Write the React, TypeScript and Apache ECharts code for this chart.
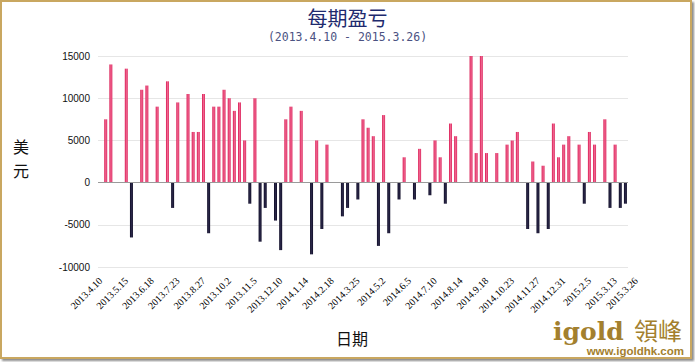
import React, { useEffect, useRef } from "react";
import * as echarts from "echarts";

const titleText = "每期盈亏";
const subtitleText = "(2013.4.10 - 2015.3.26)";
const yAxisName = "美元";
const xAxisName = "日期";

const tickLabels = [
  "2013.4.10", "2013.5.15", "2013.6.18", "2013.7.23", "2013.8.27", "2013.10.2",
  "2013.11.5", "2013.12.10", "2014.1.14", "2014.2.18", "2014.3.25", "2014.5.2",
  "2014.6.5", "2014.7.10", "2014.8.14", "2014.9.18", "2014.10.23", "2014.11.27",
  "2014.12.31", "2015.2.5", "2015.3.13",
];
const tickIndex = [0, 5, 10, 15, 20, 25, 30, 35, 40, 45, 50, 55, 60, 65, 70, 75, 80, 85, 90, 95, 100];
const endLabel = "2015.3.26";

const profit: (number | null)[] = [
  null, 7500, 14000, null, null, 13500, -6500, null, 11000, 11500,
  null, 9000, null, 12000, -3000, 9500, null, 10500, 6000, 6000,
  10500, -6000, 9000, 9000, 11000, 10000, 8500, 9500, 5000, -2500,
  10000, -7000, -3000, null, -4500, -8000, 7500, 9000, null, 8500,
  null, -8500, 5000, -5500, 4500, null, null, -4000, -3000, null,
  -2000, 7500, 6500, 5500, -7500, 8000, -6000, null, -2000, 3000,
  null, -2000, 4000, null, -1500, 5000, 3000, -2500, 7000, 5500,
  null, null, 15000, 3500, 15000, 3500, null, 3500, null, 4500,
  5000, 6000, null, -5500, 2500, -6000, 2000, -5500, 7000, 3000,
  4500, 5500, null, 4500, -2500, 6000, 4500, null, 7500, -3000,
  4500, -3000, -2500,
];

const yTicks = { min: -10000, max: 15000, interval: 5000 };

const categories = profit.map((_, i) => {
  const k = tickIndex.indexOf(i);
  return k >= 0 ? tickLabels[k] : "";
});

const GOLD = "#a3802e";

export default function App() {
  const ref = useRef<HTMLDivElement>(null);
  useEffect(() => {
    if (!ref.current) return;
    const chart = echarts.init(ref.current, undefined, { renderer: "svg" });
    const pos = new echarts.graphic.LinearGradient(0, 0, 1, 0, [
      { offset: 0, color: "#d8164f" },
      { offset: 0.5, color: "#f06590" },
      { offset: 1, color: "#dc2a60" },
    ]);
    const neg = new echarts.graphic.LinearGradient(0, 0, 1, 0, [
      { offset: 0, color: "#0f0c26" },
      { offset: 0.5, color: "#2a2748" },
      { offset: 1, color: "#0f0c26" },
    ]);
    chart.setOption({
      animation: false,
      backgroundColor: "transparent",
      grid: { left: 98, right: 67, top: 56, bottom: 95 },
      xAxis: {
        type: "category",
        data: categories,
        boundaryGap: true,
        axisLine: { show: false, onZero: false },
        axisTick: { show: false },
        splitLine: { show: false },
        axisLabel: {
          interval: 0,
          rotate: 45,
          margin: 12,
          fontSize: 10,
          fontFamily: "Liberation Serif",
          color: "#000",
        },
      },
      yAxis: {
        type: "value",
        min: yTicks.min,
        max: yTicks.max,
        interval: yTicks.interval,
        axisLine: { show: false },
        axisTick: { show: false },
        splitLine: { lineStyle: { color: "#e6e6e6", width: 1 } },
        axisLabel: {
          margin: 8,
          fontSize: 10,
          fontFamily: "Liberation Sans",
          color: "#111",
          formatter: (v: number) => String(v),
        },
      },
      series: [
        {
          type: "bar",
          data: profit,
          barWidth: 3,
          itemStyle: {
            color: (p: any) => (p.value >= 0 ? pos : neg),
          },
          markLine: {
            silent: true,
            symbol: "none",
            label: { show: false },
            lineStyle: { color: "#9a9a9a", type: "solid", width: 1 },
            data: [{ yAxis: 0 }],
          },
        },
      ],
      graphic: [
        {
          type: "text",
          x: 347.5,
          y: 17,
          style: {
            text: titleText,
            fontSize: 20,
            lineHeight: 20,
            fontFamily: "Noto Sans CJK SC",
            fill: "#1e2a6e",
            align: "center",
            verticalAlign: "middle",
          },
        },
        {
          type: "text",
          x: 347.5,
          y: 37,
          style: {
            text: subtitleText,
            fontSize: 11.5,
            lineHeight: 12,
            fontFamily: "DejaVu Sans Mono",
            fill: "#4b5282",
            align: "center",
            verticalAlign: "middle",
          },
        },
        {
          type: "text",
          x: 636,
          y: 279,
          rotation: Math.PI / 4,
          style: {
            text: endLabel,
            fontSize: 10,
            fontFamily: "Liberation Serif",
            fill: "#000",
            align: "right",
            verticalAlign: "middle",
          },
        },
        {
          type: "text",
          x: 21,
          y: 158,
          style: {
            text: yAxisName.split("").join("\n"),
            fontSize: 16,
            lineHeight: 24,
            fontFamily: "Noto Sans CJK SC",
            fill: "#111",
            align: "center",
            verticalAlign: "middle",
          },
        },
        {
          type: "text",
          x: 352,
          y: 338,
          style: {
            text: xAxisName,
            fontSize: 16,
            fontFamily: "Noto Sans CJK SC",
            fill: "#111",
            align: "center",
            verticalAlign: "middle",
          },
        },
        {
          type: "text",
          x: 553,
          y: 331,
          style: {
            text: "igold",
            fontSize: 25,
            fontWeight: "bold",
            fontFamily: "DejaVu Serif",
            fill: GOLD,
            align: "left",
            verticalAlign: "middle",
          },
        },
        {
          type: "text",
          x: 634,
          y: 329,
          style: {
            text: "領峰",
            fontSize: 24,
            fontFamily: "Noto Sans CJK TC",
            fill: GOLD,
            align: "left",
            verticalAlign: "middle",
          },
        },
        {
          type: "text",
          x: 684,
          y: 350.5,
          style: {
            text: "www.igoldhk.com",
            fontSize: 11.5,
            fontWeight: "bold",
            fontFamily: "Liberation Sans",
            fill: GOLD,
            align: "right",
            verticalAlign: "middle",
          },
        },
      ],
    });
    return () => chart.dispose();
  }, []);
  return (
    <div style={{ position: "absolute", left: 0, top: 0, width: 695, height: 362, background: "#fff" }}>
      <div
        style={{
          position: "absolute",
          left: 0,
          top: 0,
          width: 692,
          height: 359,
          boxSizing: "border-box",
          border: "2px solid #c9a760",
          boxShadow: "2px 2px 2px rgba(0,0,0,0.45)",
          background: "#fff",
        }}
      />
      <div ref={ref} style={{ position: "absolute", left: 0, top: 0, width: 695, height: 362 }} />
    </div>
  );
}
